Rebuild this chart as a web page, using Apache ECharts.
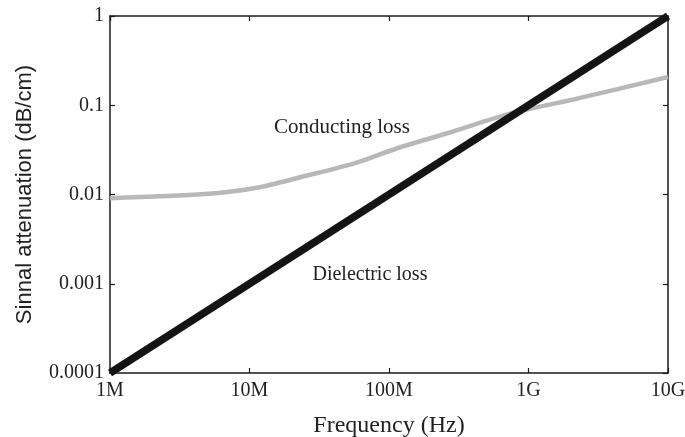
<!DOCTYPE html>
<html>
<head>
<meta charset="utf-8">
<script src="https://cdn.jsdelivr.net/npm/echarts@6/dist/echarts.min.js"></script>
<style>
  html, body { margin: 0; padding: 0; background: #fff; }
  #chart { width: 685px; height: 437px; }
</style>
</head>
<body>
<div id="chart"></div>
<script>
// Frequency decades shown on the horizontal axis (Hz) and their labels
const freqTicks = [1e6, 1e7, 1e8, 1e9, 1e10];
const freqTickLabels = ['1M', '10M', '100M', '1G', '10G'];

// Attenuation decades on the vertical axis (dB/cm) and their labels
const attTicks = [1e-4, 1e-3, 1e-2, 1e-1, 1];
const attTickLabels = ['0.0001', '0.001', '0.01', '0.1', '1'];

// Dielectric loss: grows linearly with frequency
const dielectricFreq = [1e6, 1e10];
const dielectricLoss = [0.0001, 1];

// Conducting loss: DC floor at low frequency, skin effect above
const conductingFreq = [1.0e6, 4.8e6, 1.1e7, 2.5e7, 5.7e7, 1.16e8, 2.65e8, 7.7e8, 2.3e9, 1.0e10];
const conductingLoss = [0.0091, 0.0101, 0.0118, 0.0161, 0.0225, 0.0332, 0.0489, 0.082, 0.12, 0.207];

// Curve annotations: [text, frequency, attenuation]
const conductingNote = ['Conducting loss', 4.6e7, 0.056];
const dielectricNote = ['Dielectric loss', 7.3e7, 0.00125];

const serif = '"Liberation Serif", "DejaVu Serif", serif';
const ink = '#222';
const pairs = (xs, ys) => xs.map((x, i) => [x, ys[i]]);

function labelFor(ticks, labels) {
  return function (v) {
    let best = 0;
    for (let i = 1; i < ticks.length; i++) {
      if (Math.abs(Math.log10(ticks[i]) - Math.log10(v)) < Math.abs(Math.log10(ticks[best]) - Math.log10(v))) best = i;
    }
    return labels[best];
  };
}

const axisLine = { show: true, lineStyle: { color: '#1a1a1a', width: 1.5 } };
const axisTick = { show: true, inside: true, length: 5, lineStyle: { color: '#1a1a1a', width: 1.2 } };

function note(n, size) {
  return {
    symbol: 'circle', symbolSize: 0,
    data: [{ coord: [n[1], n[2]], value: n[0] }],
    label: {
      show: true, position: 'inside', formatter: n[0],
      fontFamily: serif, fontSize: size, color: ink
    }
  };
}

const chart = echarts.init(document.getElementById('chart'), null, { renderer: 'canvas' });
chart.setOption({
  animation: false,
  backgroundColor: '#fff',
  grid: { left: 110, right: 17, top: 16, bottom: 64, containLabel: false, outerBoundsMode: 'none' },
  xAxis: [
    {
      type: 'log', logBase: 10, min: freqTicks[0], max: freqTicks[freqTicks.length - 1],
      position: 'bottom',
      name: 'Frequency (Hz)', nameLocation: 'middle', nameGap: 41,
      nameTextStyle: { fontFamily: serif, fontSize: 24, color: ink },
      axisLine, axisTick, minorTick: { show: false }, splitLine: { show: false },
      axisLabel: { formatter: labelFor(freqTicks, freqTickLabels), fontFamily: serif, fontSize: 20, color: ink, margin: 8 }
    },
    {
      type: 'log', logBase: 10, min: freqTicks[0], max: freqTicks[freqTicks.length - 1],
      position: 'top',
      axisLine, axisTick, splitLine: { show: false }, axisLabel: { show: false }
    }
  ],
  yAxis: [
    {
      type: 'log', logBase: 10, min: attTicks[0], max: attTicks[attTicks.length - 1],
      position: 'left',
      name: 'Sinnal attenuation (dB/cm)', nameLocation: 'middle', nameGap: 74,
      nameTextStyle: { fontFamily: '"Liberation Sans", Arial, sans-serif', fontSize: 22, color: ink },
      axisLine, axisTick, minorTick: { show: false }, splitLine: { show: false },
      axisLabel: { formatter: labelFor(attTicks, attTickLabels), fontFamily: serif, fontSize: 20, color: ink, margin: 6 }
    },
    {
      type: 'log', logBase: 10, min: attTicks[0], max: attTicks[attTicks.length - 1],
      position: 'right',
      axisLine, axisTick, splitLine: { show: false }, axisLabel: { show: false }
    }
  ],
  series: [
    {
      name: 'Conducting loss', type: 'line', smooth: 0.3,
      data: pairs(conductingFreq, conductingLoss),
      showSymbol: false,
      lineStyle: { color: '#b8b8b8', width: 4.5 },
      z: 2,
      markPoint: note(conductingNote, 21)
    },
    {
      name: 'Dielectric loss', type: 'line',
      data: pairs(dielectricFreq, dielectricLoss),
      showSymbol: false,
      lineStyle: { color: '#141414', width: 7.5 },
      z: 3,
      markPoint: note(dielectricNote, 20)
    }
  ]
});
</script>
</body>
</html>
